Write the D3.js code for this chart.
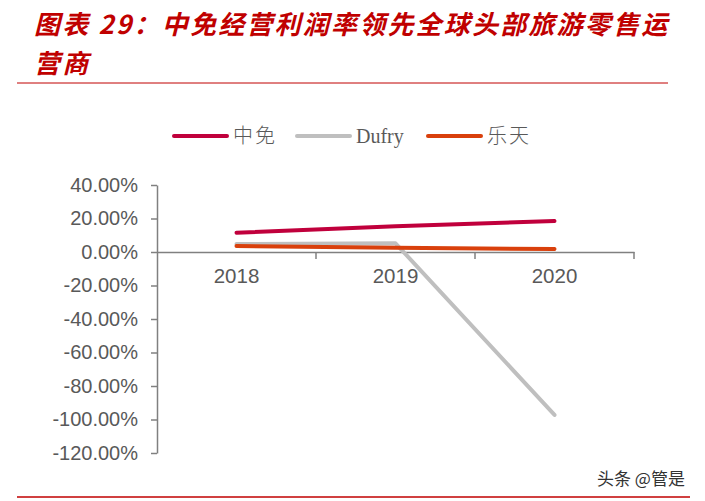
<!DOCTYPE html>
<html><head><meta charset="utf-8">
<script src="https://cdn.jsdelivr.net/npm/d3@7"></script>
<style>body{margin:0;background:#fff;} svg{display:block;}</style>
</head><body>
<script>
const categories = ["2018", "2019", "2020"];
const seriesNames = ["中免", "Dufry", "乐天"];
const cdfg = [11.5, 15.3, 18.5];
const dufry = [4.8, 5.2, -97.3];
const lotte = [3.6, 2.5, 1.8];
const yTicks = [40, 20, 0, -20, -40, -60, -80, -100, -120];
const colors = ["#C0003C", "#BFBFBF", "#D9400C"];

const W = 705, H = 501;
const svg = d3.select("body").append("svg").attr("width", W).attr("height", H);

// title
const title = svg.append("g").attr("fill", "#C00000").attr("font-family", "'Noto Sans CJK SC', sans-serif")
  .attr("font-weight", "bold").attr("font-style", "italic").attr("font-size", 26).attr("letter-spacing", 2.2);
title.append("text").attr("x", 34).attr("y", 34).text("图表 29：中免经营利润率领先全球头部旅游零售运");
title.append("text").attr("x", 34).attr("y", 73).text("营商");
svg.append("line").attr("x1", 17).attr("x2", 668).attr("y1", 83).attr("y2", 83).attr("stroke", "#C00000").attr("stroke-width", 1);
svg.append("line").attr("x1", 17).attr("x2", 690).attr("y1", 497).attr("y2", 497).attr("stroke", "#C00000").attr("stroke-width", 1.5);

// scales
const x = d3.scaleBand().domain(categories).range([157, 634]);
const y = d3.scaleLinear().domain([-120, 40]).range([453, 185]);

const labelFont = "'Liberation Sans', Arial, sans-serif";
// y axis
const yAxis = svg.append("g").attr("transform", "translate(157,0)")
  .call(d3.axisLeft(y).tickValues(yTicks).tickSize(6).tickSizeOuter(0).tickFormat(d => d.toFixed(2) + "%"));
yAxis.select(".domain").attr("stroke", "#808080").attr("stroke-width", 1.5);
yAxis.selectAll(".tick line").attr("stroke", "#808080").attr("stroke-width", 1.5);
yAxis.selectAll(".tick text").attr("font-family", labelFont).attr("font-size", 20)
  .attr("fill", "#595959").attr("x", -19);

// x axis at 0
const xAxis = svg.append("g").attr("transform", `translate(0,${y(0)})`)
  .call(d3.axisBottom(x).tickSize(0).tickFormat(d => d));
xAxis.select(".domain").attr("stroke", "#808080").attr("stroke-width", 1.5);
xAxis.selectAll(".tick text").attr("font-family", labelFont).attr("font-size", 20.5)
  .attr("fill", "#595959").attr("dy", "0").attr("y", 31);
const bounds = categories.map(c => x(c)).concat([x(categories[categories.length-1]) + x.bandwidth()]);
svg.append("g").selectAll("line").data(bounds.slice(1)).join("line")
  .attr("x1", d => d).attr("x2", d => d).attr("y1", y(0)).attr("y2", y(0) + 7)
  .attr("stroke", "#808080").attr("stroke-width", 1.5);

// lines
const data = [cdfg, dufry, lotte];
const line = d3.line().x((d, i) => x(categories[i]) + x.bandwidth() / 2).y(d => y(d));
const order = [1, 2, 0];
order.forEach(k => {
  svg.append("path").attr("d", line(data[k])).attr("fill", "none").attr("stroke", colors[k])
    .attr("stroke-width", 4).attr("stroke-linecap", "round").attr("stroke-linejoin", "round");
});

// legend
const legendX = [174, 297, 428];
const lg = svg.append("g");
seriesNames.forEach((n, i) => {
  lg.append("line").attr("x1", legendX[i]).attr("x2", legendX[i] + 53).attr("y1", 136).attr("y2", 136)
    .attr("stroke", colors[i]).attr("stroke-width", 4).attr("stroke-linecap", "round");
  lg.append("text").attr("x", legendX[i] + 59).attr("y", 143)
    .attr("font-family", "'Liberation Serif', 'Noto Sans CJK SC', serif").attr("font-size", 20)
    .attr("font-weight", 300)
    .attr("letter-spacing", i === 1 ? 0 : 2)
    .attr("fill", "#595959").text(n);
});

// watermark
svg.append("text").attr("x", 597).attr("y", 485).attr("font-family", "'Noto Sans CJK SC', sans-serif")
  .attr("font-size", 17).attr("fill", "#333").text("头条 @管是");
</script>
</body></html>
